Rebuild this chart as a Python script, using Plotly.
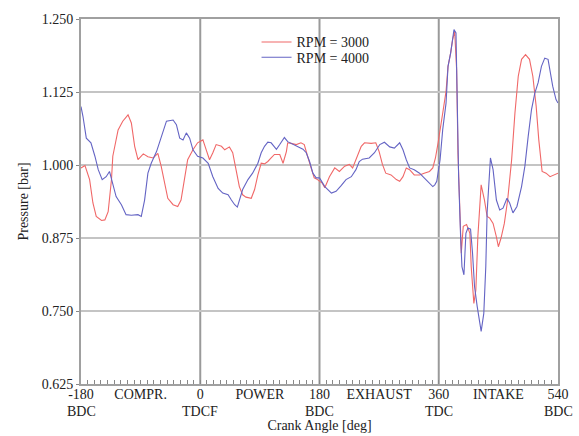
import plotly.graph_objects as go

# Crank angle [deg] and pressure [bar] for RPM = 3000
red_deg = [-180, -174, -167, -162, -157, -149, -144, -139, -134, -132, -124, -117, -109, -104, -99, -94,
           -86, -79, -71, -64, -59, -54, -49, -41, -34, -29, -24, -19, -11, -4, -1, 4, 9, 14, 19, 24,
           32, 37, 44, 49, 54, 59, 64, 69, 77, 82, 87, 92, 97, 102, 107, 112, 120, 125, 130, 132,
           137, 145, 152, 157, 162, 167, 172, 177, 180, 184, 188, 195, 203, 210, 218, 225, 230, 235,
           243, 248, 258, 265, 270, 275, 280, 288, 296, 301, 306, 311, 316, 323, 331, 338, 346, 351,
           355, 359, 361, 366, 371, 374, 378, 381, 384, 387, 389, 392, 394, 397, 402, 407, 409, 413,
           416, 419, 422, 424, 429, 433, 437, 442, 447, 450, 454, 459, 464, 470, 475, 480, 485, 491,
           497, 502, 507, 511, 516, 522, 528, 535, 540]
red_p = [0.995, 0.999, 0.975, 0.935, 0.912, 0.905, 0.906, 0.920, 0.975, 1.015, 1.060, 1.075, 1.086, 1.072, 1.032, 1.009,
         1.019, 1.014, 1.012, 1.020, 0.998, 0.969, 0.943, 0.932, 0.929, 0.940, 0.975, 1.009, 1.026, 1.038, 1.040, 1.043, 1.026, 1.009, 1.021, 1.035,
         1.032, 1.026, 1.031, 1.021, 0.992, 0.963, 0.949, 0.945, 0.943, 0.958, 0.983, 1.003, 1.002, 1.006, 1.012, 1.018, 1.018, 1.003, 1.023, 1.038,
         1.037, 1.035, 1.038, 1.035, 1.015, 0.995, 0.978, 0.975, 0.972, 0.969, 0.961, 0.980, 0.995, 0.989, 0.998, 1.001, 0.995, 1.009,
         1.032, 1.038, 1.037, 1.038, 1.023, 1.001, 0.986, 0.983, 0.975, 0.972, 0.980, 0.995, 0.992, 0.983, 0.983, 0.986, 0.989, 0.995,
         1.012, 1.038, 1.055, 1.089, 1.126, 1.169, 1.192, 1.215, 1.229, 1.163, 1.021, 0.906, 0.849, 0.895, 0.898, 0.883, 0.826, 0.763,
         0.786, 0.877, 0.946, 0.966, 0.940, 0.912, 0.909, 0.900, 0.877, 0.860, 0.875, 0.900, 0.940, 1.009, 1.089, 1.152, 1.181, 1.189,
         1.181, 1.152, 1.101, 1.043, 0.989, 0.986, 0.980, 0.983, 0.986]

# Crank angle [deg] and pressure [bar] for RPM = 4000
blue_deg = [-180, -177, -172, -165, -159, -154, -148, -142, -137, -132, -127, -119, -112, -104, -94, -89,
            -84, -79, -74, -66, -59, -51, -41, -36, -31, -26, -21, -16, -11, -4, 4, 12, 19, 27, 34, 42,
            47, 52, 56, 59, 64, 72, 79, 87, 92, 97, 102, 107, 115, 120, 127, 132, 140, 147, 155, 160,
            165, 170, 175, 180, 188, 198, 205, 213, 220, 228, 235, 240, 245, 255, 263, 271, 278, 286,
            293, 301, 306, 311, 316, 323, 331, 338, 346, 351, 354, 357, 362, 366, 371, 374, 378, 381,
            383, 386, 388, 390, 393, 395, 398, 401, 404, 408, 411, 414, 418, 422, 424, 428, 431, 433,
            436, 438, 442, 447, 452, 457, 463, 467, 472, 478, 485, 490, 495, 500, 505, 510, 515, 520,
            525, 528, 532, 537, 540]
blue_p = [1.100, 1.083, 1.046, 1.038, 1.015, 0.992, 0.975, 0.980, 0.989, 0.969, 0.946, 0.932, 0.915, 0.914, 0.915, 0.912,
          0.940, 0.986, 1.003, 1.023, 1.049, 1.075, 1.077, 1.069, 1.046, 1.043, 1.055, 1.046, 1.026, 1.015, 1.012, 1.003, 0.980, 0.960, 0.952, 0.949,
          0.940, 0.932, 0.928, 0.938, 0.958, 0.975, 0.986, 1.003, 1.021, 1.032, 1.039, 1.038, 1.027, 1.035, 1.047, 1.040, 1.035, 1.032, 1.027, 1.021,
          1.006, 0.986, 0.978, 0.978, 0.963, 0.952, 0.955, 0.965, 0.975, 0.980, 0.992, 1.006, 1.010, 1.012, 1.021, 1.035, 1.039, 1.031,
          1.029, 1.038, 1.026, 1.009, 0.995, 0.992, 0.986, 0.978, 0.968, 0.963, 0.966, 0.972, 1.009, 1.061, 1.106, 1.169, 1.192, 1.215,
          1.232, 1.226, 1.106, 0.980, 0.877, 0.826, 0.812, 0.883, 0.892, 0.890, 0.849, 0.792, 0.758, 0.723, 0.715, 0.746, 0.826, 0.918,
          0.986, 1.012, 0.992, 0.940, 0.923, 0.926, 0.943, 0.935, 0.918, 0.929, 0.963, 0.998, 1.049, 1.095, 1.123, 1.141, 1.169, 1.183,
          1.181, 1.163, 1.135, 1.112, 1.106]

x_tickvals = [-180, -90, 0, 90, 180, 270, 360, 450, 540]
x_ticktext = ["-180", "COMPR.", "0", "POWER", "180", "EXHAUST", "360", "INTAKE", "540"]
x_ticksub = ["BDC", "", "TDCF", "", "BDC", "", "TDC", "", "BDC"]
y_tickvals = [0.625, 0.750, 0.875, 1.000, 1.125, 1.250]
y_ticktext = ["0.625", "0.750", "0.875", "1.000", "1.125", "1.250"]
stroke_bounds = [0, 180, 360]

FONT = "Liberation Serif"
TXT = "#222222"

fig = go.Figure()
fig.add_trace(go.Scatter(x=red_deg, y=red_p, mode="lines", name="RPM = 3000", legend="legend",
                         line=dict(color="#f06868", width=1.1)))
fig.add_trace(go.Scatter(x=blue_deg, y=blue_p, mode="lines", name="RPM = 4000", legend="legend2",
                         line=dict(color="#6464c4", width=1.1)))

for xb in stroke_bounds:
    fig.add_vline(x=xb, line=dict(color="#9a9a9a", width=2), layer="below")

for xv, sub in zip(x_tickvals, x_ticksub):
    if sub:
        fig.add_annotation(x=xv, xref="x", y=0, yref="paper", yanchor="middle",
                           yshift=-27, text=sub, showarrow=False,
                           font=dict(family=FONT, size=14, color=TXT))

leg_common = dict(xanchor="left", yanchor="middle", bgcolor="rgba(0,0,0,0)",
                  font=dict(family=FONT, size=14, color=TXT), itemwidth=30,
                  borderwidth=0)

fig.update_layout(
    width=579, height=436,
    margin=dict(l=81, r=21, t=19, b=52, autoexpand=False),
    paper_bgcolor="white", plot_bgcolor="white",
    font=dict(family=FONT, size=14, color=TXT),
    showlegend=True,
    legend=dict(x=0.368, y=0.936, **leg_common),
    legend2=dict(x=0.368, y=0.894, **leg_common),
    xaxis=dict(range=[-180, 540], tickmode="array", tickvals=x_tickvals, ticktext=x_ticktext,
               showgrid=False, zeroline=False, showline=True, mirror=True, automargin=False,
               linecolor="#a0a0a0", linewidth=2,
               ticks="inside", ticklen=4, tickcolor="#888888", ticklabelstandoff=-4,
               minor=dict(dtick=10, tick0=-180, ticks="inside", ticklen=4, tickcolor="#888888", showgrid=False),
               title=dict(text="Crank Angle [deg]", standoff=19, font=dict(family=FONT, size=14))),
    yaxis=dict(range=[0.625, 1.25], tickmode="array", tickvals=y_tickvals, ticktext=y_ticktext,
               showgrid=True, gridcolor="#c4c4c4", gridwidth=1.5, zeroline=False, automargin=False,
               showline=True, mirror=True, linecolor="#a0a0a0", linewidth=2,
               ticks="outside", ticklen=3, tickcolor="#888888",
               title=dict(text="Pressure [bar]", standoff=10, font=dict(family=FONT, size=14))),
)

fig.write_html("out.html", config={"displayModeBar": False},
               post_script="document.body.style.margin='0';document.body.style.padding='0';")
